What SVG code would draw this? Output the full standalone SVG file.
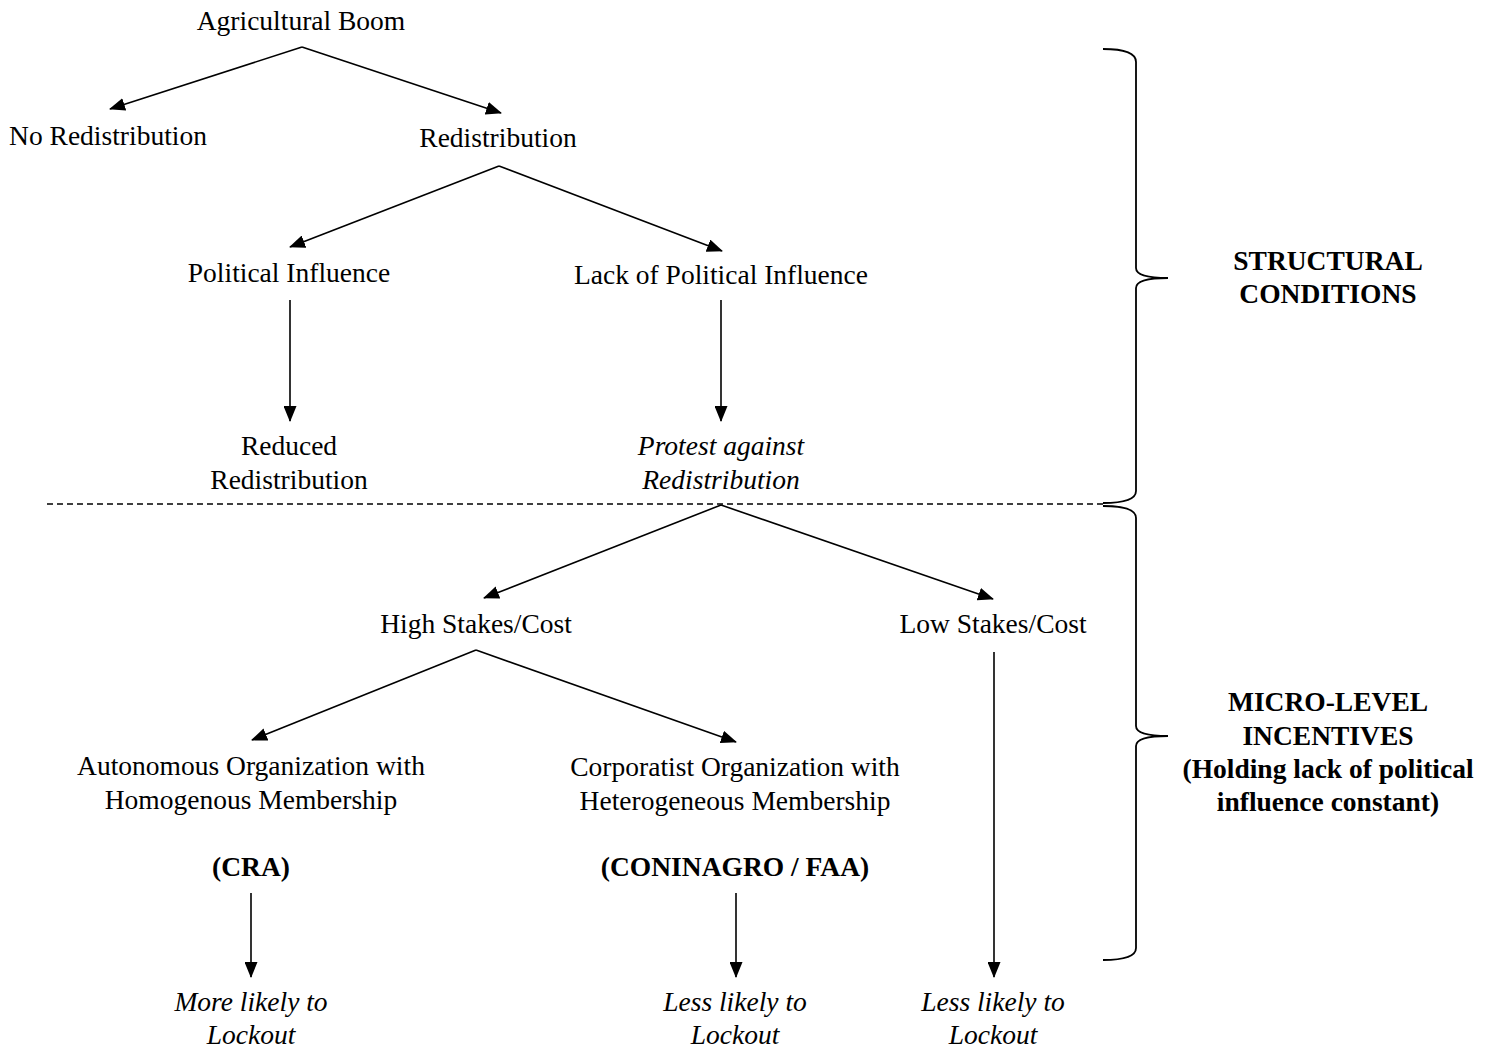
<svg xmlns="http://www.w3.org/2000/svg" width="1496" height="1050" viewBox="0 0 1496 1050">
<defs>
<style>
text{font-family:"Liberation Serif","Times New Roman",serif;font-size:27.5px;fill:#000;text-anchor:middle}
.i{font-style:italic}
.b{font-weight:bold}
.c{stroke:#000;stroke-width:1.6;fill:none}
.br{stroke:#000;stroke-width:1.8;fill:none}
</style>
<marker id="ah" markerUnits="userSpaceOnUse" markerWidth="16" markerHeight="13" refX="15" refY="6.5" orient="auto">
<path d="M0,0 L16,6.5 L0,13 Z" fill="#000"/>
</marker>
</defs>
<rect width="1496" height="1050" fill="#fff"/>

<g id="n-boom"><text x="301" y="30">Agricultural Boom</text></g>
<g id="n-noredist"><text x="108" y="145">No Redistribution</text></g>
<g id="n-redist"><text x="498" y="147">Redistribution</text></g>
<g id="n-polinf"><text x="289" y="282">Political Influence</text></g>
<g id="n-lackpol"><text x="721" y="284">Lack of Political Influence</text></g>
<g id="n-reduced"><text x="289" y="455">Reduced</text><text x="289" y="489">Redistribution</text></g>
<g id="n-protest"><text class="i" x="721" y="455">Protest against</text><text class="i" x="721" y="489">Redistribution</text></g>
<g id="n-high"><text x="476" y="633">High Stakes/Cost</text></g>
<g id="n-low"><text x="993" y="633">Low Stakes/Cost</text></g>
<g id="n-auto"><text x="251" y="775">Autonomous Organization with</text><text x="251" y="809">Homogenous Membership</text><text class="b" x="251" y="876">(CRA)</text></g>
<g id="n-corp"><text x="735" y="776">Corporatist Organization with</text><text x="735" y="810">Heterogeneous Membership</text><text class="b" x="735" y="876">(CONINAGRO / FAA)</text></g>
<g id="n-more"><text class="i" x="251" y="1011">More likely to</text><text class="i" x="251" y="1044">Lockout</text></g>
<g id="n-less1"><text class="i" x="735" y="1011">Less likely to</text><text class="i" x="735" y="1044">Lockout</text></g>
<g id="n-less2"><text class="i" x="993" y="1011">Less likely to</text><text class="i" x="993" y="1044">Lockout</text></g>
<g id="n-struct"><text class="b" x="1328" y="270">STRUCTURAL</text><text class="b" x="1328" y="303">CONDITIONS</text></g>
<g id="n-micro"><text class="b" x="1328" y="711">MICRO-LEVEL</text><text class="b" x="1328" y="745">INCENTIVES</text><text class="b" x="1328" y="778">(Holding lack of political</text><text class="b" x="1328" y="811">influence constant)</text></g>

<g id="connectors">
<line class="c" x1="302" y1="47" x2="110" y2="109" marker-end="url(#ah)"/>
<line class="c" x1="302" y1="47" x2="501" y2="113" marker-end="url(#ah)"/>
<line class="c" x1="499" y1="166" x2="290" y2="247" marker-end="url(#ah)"/>
<line class="c" x1="499" y1="166" x2="722" y2="251" marker-end="url(#ah)"/>
<line class="c" x1="290" y1="300" x2="290" y2="421" marker-end="url(#ah)"/>
<line class="c" x1="721" y1="300" x2="721" y2="421" marker-end="url(#ah)"/>
<line class="c" x1="721" y1="505" x2="484" y2="598" marker-end="url(#ah)"/>
<line class="c" x1="721" y1="505" x2="993" y2="599" marker-end="url(#ah)"/>
<line class="c" x1="476" y1="650" x2="252" y2="740" marker-end="url(#ah)"/>
<line class="c" x1="476" y1="650" x2="736" y2="742" marker-end="url(#ah)"/>
<line class="c" x1="994" y1="652" x2="994" y2="977" marker-end="url(#ah)"/>
<line class="c" x1="251" y1="893" x2="251" y2="977" marker-end="url(#ah)"/>
<line class="c" x1="736" y1="893" x2="736" y2="977" marker-end="url(#ah)"/>
<line x1="47" y1="504" x2="1103" y2="504" stroke="#000" stroke-width="1.5" stroke-dasharray="6,4"/>
<path class="br" d="M1103,49 Q1136,49 1136,62 L1136,268 Q1136,278 1168,278 Q1136,278 1136,288 L1136,491 Q1136,503 1103,503"/>
<path class="br" d="M1103,506 Q1136,506 1136,518 L1136,726 Q1136,736 1168,736 Q1136,736 1136,746 L1136,948 Q1136,960 1103,960"/>
</g>
</svg>
